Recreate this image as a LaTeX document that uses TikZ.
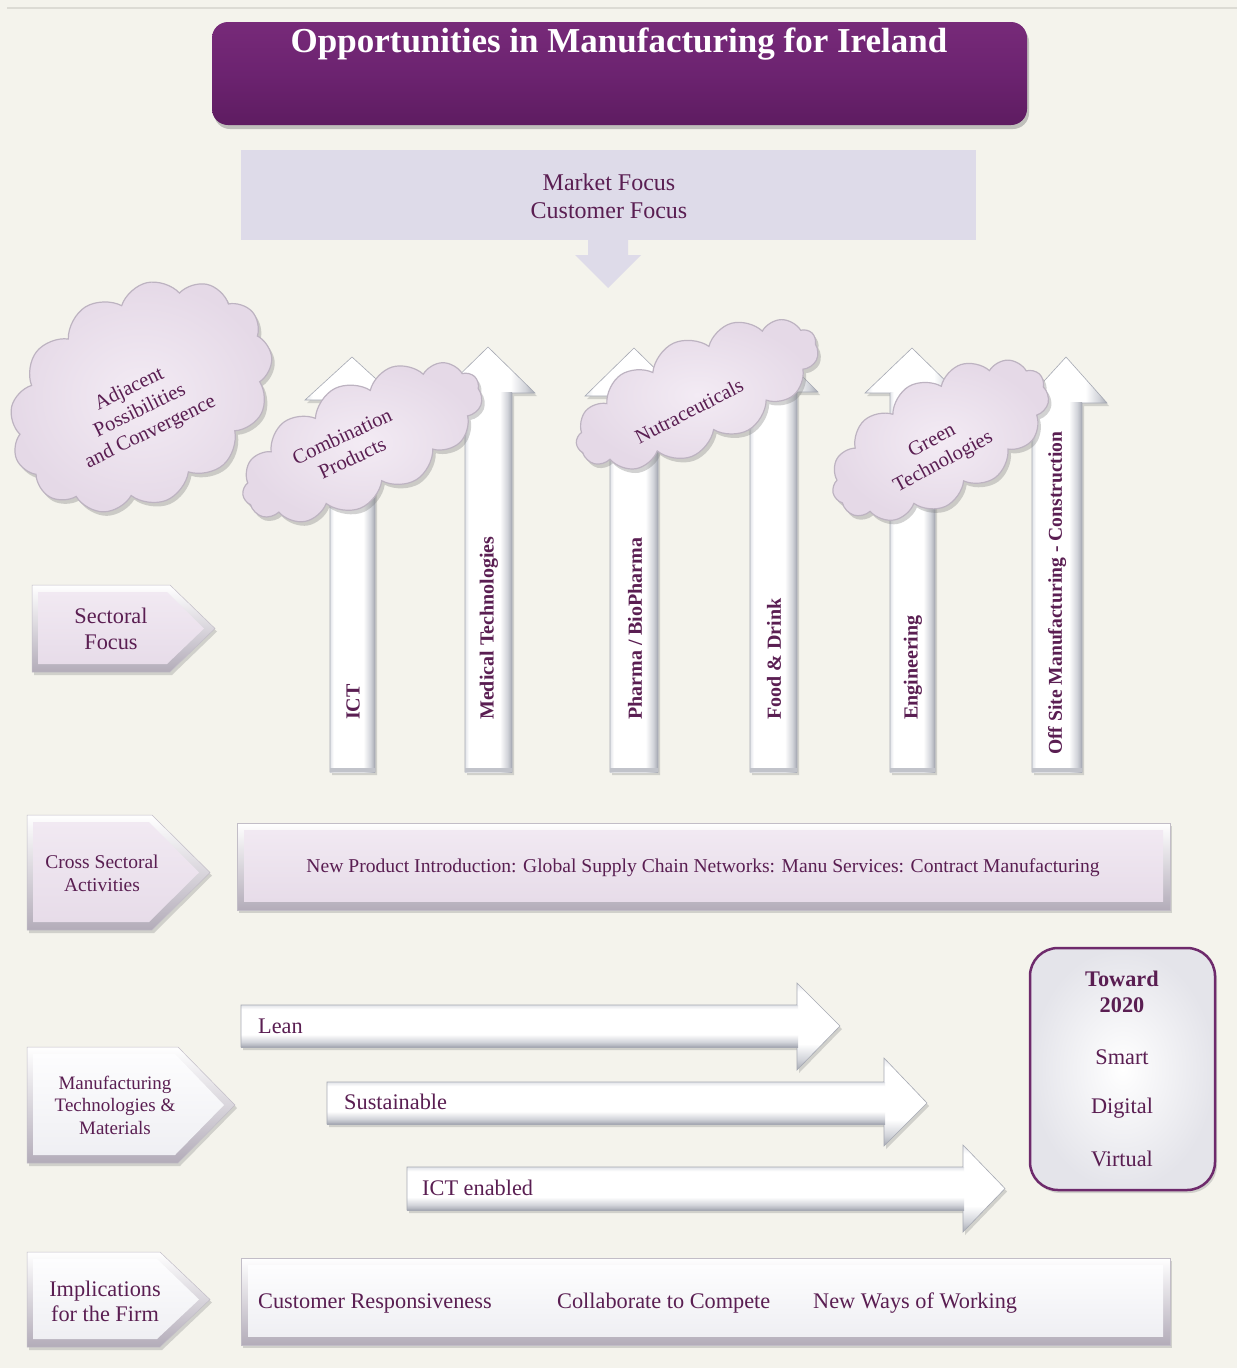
\documentclass[tikz,border=0pt]{standalone}
\usepackage{fontspec}
\setmainfont{Liberation Serif}
\usetikzlibrary{shapes.symbols,shadows}
\definecolor{bg}{HTML}{F4F3EC}
\definecolor{linegray}{HTML}{DCDBD4}
\definecolor{plum}{HTML}{5A1E52}
\definecolor{titlemid}{HTML}{6C2370}
\definecolor{titletop}{HTML}{772A79}
\definecolor{titlebot}{HTML}{5E1C61}
\definecolor{mkt}{HTML}{DEDBE9}
\definecolor{lavtop}{HTML}{F1E9F2}
\definecolor{lavbot}{HTML}{E7DCE9}
\definecolor{whtop}{HTML}{FDFDFE}
\definecolor{whbot}{HTML}{EFEFF3}
\definecolor{bevdark}{HTML}{B3ACB9}
\definecolor{edgeD}{HTML}{A6A9B3}
\definecolor{edgeM}{HTML}{D2D4DA}
\definecolor{edgeL}{HTML}{E2E4E9}
\definecolor{frame}{HTML}{6E2A6C}
\definecolor{cloudin}{HTML}{F3EBF4}
\definecolor{cloudout}{HTML}{E5D9E7}
\definecolor{clouddraw}{HTML}{BDB3C1}
\definecolor{twedge}{HTML}{E4E4EA}

\pgfdeclarehorizontalshading{vsh}{100bp}{color(0bp)=(edgeL); color(25bp)=(edgeL); color(29bp)=(white); color(62bp)=(white); color(70bp)=(edgeM); color(75bp)=(edgeD); color(100bp)=(edgeD)}
\pgfdeclareverticalshading{hsh}{100bp}{color(0bp)=(edgeD); color(25bp)=(edgeD); color(31bp)=(edgeM); color(40bp)=(white); color(70bp)=(white); color(75bp)=(edgeL); color(100bp)=(edgeL)}

\newcommand\varr[9]{%
  \path[varrow] (#2,#4) -- (#2,#9) -- (#7,#9) -- (#5,#6) -- (#8,#9) -- (#3,#9) -- (#3,#4) -- cycle;
  \path[shading=vsh] (#2,{#9-1}) rectangle (#3,#4);
  \draw[edgeD, line width=0.6pt] (#2,#9) -- (#7,#9) -- (#5,#6) -- (#8,#9) -- (#3,#9) -- (#3,#4) -- (#2,#4) -- cycle;
  \fill[edgeD!70] (#2,{#4-4}) rectangle (#3,#4);
  \coordinate (#1) at (#5,#6);
}
\newcommand\harr[7]{%
  \path[harrow] (#1,#2) -- (#4,#2) -- (#4,#5) -- (#7,{(#2+#3)/2}) -- (#4,#6) -- (#4,#3) -- (#1,#3) -- cycle;
  \path[shading=hsh] (#1,#2) rectangle ({#4+1},#3);
  \draw[edgeD, line width=0.6pt] (#1,#2) -- (#4,#2) -- (#4,#5) -- (#7,{(#2+#3)/2}) -- (#4,#6) -- (#4,#3) -- (#1,#3) -- cycle;
}
\newcommand\chev[6]{%
  \path[bevout] (#1,#2) -- (#3,#2) -- (#4,{(#2+#5)/2}) -- (#3,#5) -- (#1,#5) -- cycle;
  \path[#6] ({#1+6},{#2+7}) -- ({#3-3},{#2+7}) -- ({#4-11},{(#2+#5)/2}) -- ({#3-3},{#5-8}) -- ({#1+6},{#5-8}) -- cycle;
}

\begin{document}
\begin{tikzpicture}[x=1pt,y=-1pt,
  lbl/.style={text=plum, inner sep=0pt},
  f22/.style={font=\fontsize{22.3}{26}\selectfont},
  f19/.style={font=\fontsize{19}{22.5}\selectfont},
  f20/.style={font=\fontsize{20.5}{24}\selectfont},
  shad/.style={drop shadow={shadow xshift=2pt, shadow yshift=-3pt, opacity=0.3}},
  titlebox/.style={rounded corners=16pt, minimum width=815pt, minimum height=103pt, inner sep=0pt,
     top color=titletop, bottom color=titlebot, middle color=titlemid,
     drop shadow={shadow xshift=2pt, shadow yshift=-4pt, opacity=0.45}},
  varrow/.style={shading=vsh, shad},
  harrow/.style={shading=hsh, shad},
  vlbl/.style={lbl, rotate=90, anchor=west, font=\fontsize{20}{23}\selectfont\bfseries},
  bevout/.style={top color=white, bottom color=bevdark, draw=bevdark!80, line width=0.5pt, shad},
  lavin/.style={top color=lavtop, bottom color=lavbot},
  whin/.style={top color=whtop, bottom color=whbot},
  cloudsty/.style={cloud, cloud ignores aspect, cloud puffs=13, cloud puff arc=120, inner sep=0pt,
     inner color=cloudin, outer color=cloudout, draw=clouddraw, line width=1.2pt,
     drop shadow={shadow xshift=3pt, shadow yshift=-4pt, opacity=0.35}}
]
\useasboundingbox (0,0) rectangle (1237,1368);
\fill[bg] (0,0) rectangle (1237,1368);
\draw[linegray, line width=1.2pt] (7,8) -- (1237,8);

% Title
\node[titlebox] (tbox) at (619.5,73.5) {};
\node[text=white, inner sep=0pt, font=\fontsize{35}{40}\selectfont\bfseries] (title) at (619,44) {Opportunities in Manufacturing for Ireland};

% Market focus
\node[fill=mkt, minimum width=735pt, minimum height=90pt, inner sep=0pt] (mbox) at (608.5,195) {};
\fill[mkt] (588,239) -- (628,239) -- (628,255) -- (641,255) -- (608,288) -- (575,255) -- (588,255) -- cycle;
\node[lbl, align=center, font=\fontsize{24}{28}\selectfont] (mtext) at (609,196) {Market Focus\\Customer Focus};

% Vertical sector arrows
\varr{aICT}{330}{375}{772}{352}{357}{305}{399}{400}
\varr{aMed}{465}{512}{772}{488}{347}{441}{535}{393}
\varr{aPh}{610}{658}{772}{634}{348}{585}{683}{396}
\varr{aFD}{750}{797}{772}{773}{347}{728}{818}{392}
\varr{aEng}{890}{935}{772}{912}{348}{865}{958}{393}
\varr{aOff}{1032}{1082}{772}{1066}{357}{1024}{1107}{403}

\node[vlbl] (lICT) at (353,720) {ICT};
\node[vlbl] (lMed) at (489,720) {Medical Technologies};
\node[vlbl] (lPh) at (635,720) {Pharma / BioPharma};
\node[vlbl] (lFD) at (774,720) {Food \& Drink};
\node[vlbl] (lEng) at (913,720) {Engineering};
\node[vlbl, font=\fontsize{19.6}{23}\selectfont\bfseries] (lOff) at (1057,755) {Off Site Manufacturing - Construction};

% Clouds
\node[cloudsty, minimum width=280pt, minimum height=210pt, rotate=32] (c1) at (141,396) {};
\node[lbl, f20, align=center, rotate=26] (c1t) at (140,411) {Adjacent\\Possibilities\\and Convergence};
\node[cloudsty, minimum width=262pt, minimum height=120pt, rotate=27] (c2) at (362,442) {};
\node[lbl, f20, align=center, rotate=25] (c2t) at (347,447) {Combination\\Products};
\node[cloudsty, minimum width=262pt, minimum height=112pt, rotate=25] (c3) at (697,394) {};
\node[lbl, f20, rotate=27] (c3t) at (689,411) {Nutraceuticals};
\node[cloudsty, minimum width=240pt, minimum height=124pt, rotate=30] (c4) at (940,440) {};
\node[lbl, f20, align=center, rotate=28] (c4t) at (938,452) {Green\\Technologies};

% Left chevrons
\chev{32}{585}{170}{215}{672}{lavin}
\node[lbl, f22, align=center] (sect) at (111,629) {Sectoral\\Focus};
\chev{27}{815}{152}{210}{930}{lavin}
\node[lbl, align=center, font=\fontsize{19.5}{23}\selectfont] (cross) at (102,873) {Cross Sectoral\\Activities};
\chev{27}{1047}{178}{235}{1163}{whin}
\node[lbl, f19, align=center] (manu) at (115,1105) {Manufacturing\\Technologies \&\\Materials};
\chev{27}{1252}{160}{210}{1347}{whin}
\node[lbl, align=center, font=\fontsize{22.3}{25}\selectfont] (impl) at (105,1301) {Implications\\for the Firm};

% Cross sectoral box
\node[bevout, minimum width=933pt, minimum height=87pt, inner sep=0pt] (xbox) at (703.5,866.5) {};
\node[lavin, minimum width=919pt, minimum height=71pt, inner sep=0pt] (xboxin) at (703.5,866) {};
\node[lbl, font=\fontsize{19.6}{23}\selectfont] (xtext) at (703,868) {New Product Introduction: Global Supply Chain Networks: Manu Services: Contract Manufacturing};

% Horizontal arrows
\harr{241}{1005}{1047}{797}{983}{1070}{840}
\harr{327}{1082}{1124}{884}{1058}{1146}{927}
\harr{407}{1167}{1210}{963}{1145}{1232}{1005}
\node[lbl, f22, anchor=west] (lean) at (258,1026) {Lean};
\node[lbl, f22, anchor=west] (sust) at (344,1102) {Sustainable};
\node[lbl, f22, anchor=west] (icte) at (422,1188) {ICT enabled};

% Toward 2020
\node[rounded corners=28pt, minimum width=185pt, minimum height=242pt, inner sep=0pt,
      inner color=white, outer color=twedge, draw=frame, line width=2.5pt, shad] (tw) at (1122.5,1069) {};
\node[lbl, font=\fontsize{22.3}{26}\selectfont\bfseries] (tw1) at (1122,979) {Toward};
\node[lbl, font=\fontsize{22.3}{26}\selectfont\bfseries] (tw2) at (1122,1005) {2020};
\node[lbl, f22] (tw3) at (1122,1057) {Smart};
\node[lbl, f22] (tw4) at (1122,1108) {Digital};
\node[lbl, f22] (tw5) at (1122,1159) {Virtual};

% Implications box
\node[bevout, minimum width=929pt, minimum height=87pt, inner sep=0pt] (ibox) at (705.5,1301.5) {};
\node[whin, minimum width=915pt, minimum height=71pt, inner sep=0pt] (iboxin) at (705.5,1301) {};
\node[lbl, f22, anchor=west] (i1) at (258,1303) {Customer Responsiveness};
\node[lbl, f22, anchor=west] (i2) at (557,1303) {Collaborate to Compete};
\node[lbl, f22, anchor=west] (i3) at (813,1303) {New Ways of Working};
\end{tikzpicture}
\end{document}
